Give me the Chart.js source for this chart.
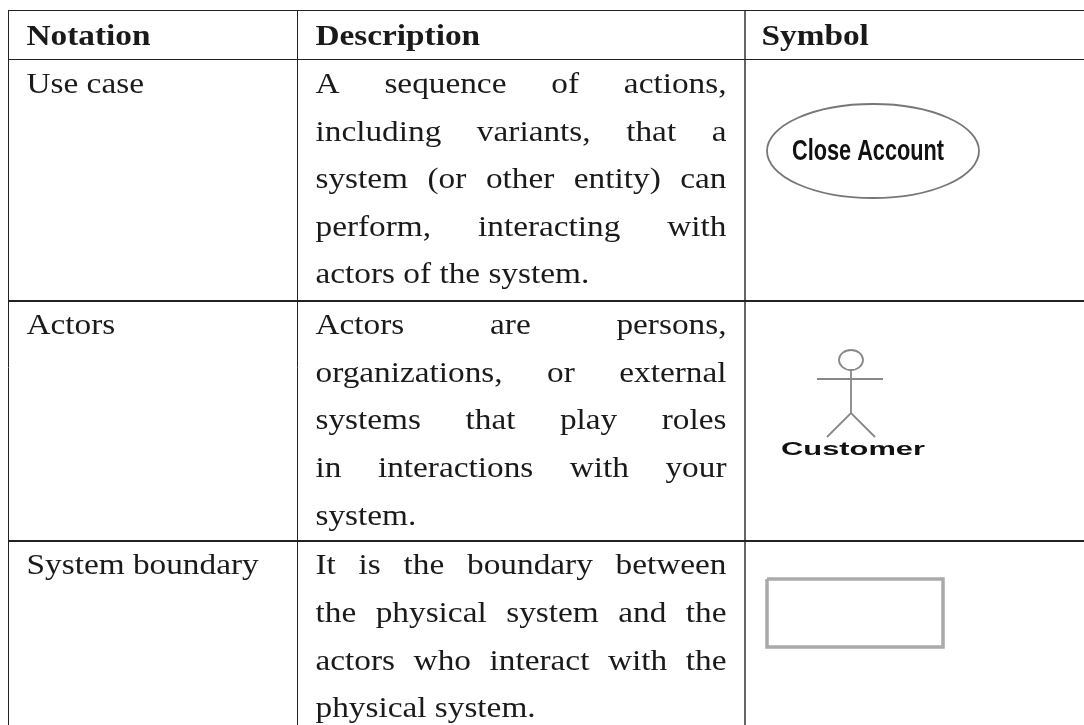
<!DOCTYPE html>
<html>
<head>
<meta charset="utf-8">
<title>Use case notation</title>
<script src="https://cdn.jsdelivr.net/npm/chart.js@4"></script>
<style>
  html, body { margin: 0; padding: 0; background: #fff; }
  canvas { display: block; }
</style>
</head>
<body>
<canvas id="tableChart" width="1084" height="725"></canvas>
<script>
// Table content
const headers = ['Notation', 'Description', 'Symbol'];
const notations = ['Use case', 'Actors', 'System boundary'];
const useCaseLines = ['A sequence of actions,', 'including variants, that a', 'system (or other entity) can', 'perform, interacting with', 'actors of the system.'];
const actorLines = ['Actors are persons,', 'organizations, or external', 'systems that play roles', 'in interactions with your', 'system.'];
const boundaryLines = ['It is the boundary between', 'the physical system and the', 'actors who interact with the', 'physical system.'];

// Rules of the table, in page units
const columnEdges = [8.5, 297.5, 745.5];
const rowEdges = [10.5, 59.5, 300.5, 540.5];

// Text baselines
const headerBaseline = 45;
const rowBaselines = [
    [93, 141, 188, 236, 283],
    [334, 382, 429, 477, 525],
    [574, 622, 670, 717]
];

// Symbols
const ovalCenter = [{ x: 873, y: 151 }];
const actorHead = [{ x: 851, y: 360 }];
const actorBody = [
    { x: 817, y: 379 }, { x: 883, y: 379 }, { x: NaN, y: NaN },
    { x: 851, y: 370 }, { x: 851, y: 413 }, { x: NaN, y: NaN },
    { x: 827, y: 437 }, { x: 851, y: 413 }, { x: 875, y: 437 }
];
const boundaryBox = [
    { x: 767, y: 579 }, { x: 943, y: 579 }, { x: 943, y: 647 }, { x: 767, y: 647 }, { x: 767, y: 579 }
];

const serif = '"Liberation Serif", serif';
const sans = '"Liberation Sans", sans-serif';
const textColor = '#1a1a1a';
const serifStretch = 1.11;

// Ellipse used as a point style (the oval and the actor's head)
function makeEllipse(rx, ry, width, color) {
    const c = document.createElement('canvas');
    c.width = Math.ceil(rx * 2 + 4);
    c.height = Math.ceil(ry * 2 + 4);
    const g = c.getContext('2d');
    g.strokeStyle = color;
    g.lineWidth = width;
    g.beginPath();
    g.ellipse(c.width / 2, c.height / 2, rx, ry, 0, 0, Math.PI * 2);
    g.stroke();
    return c;
}

// Draw text stretched sideways, to get near the width of the original face
function drawWord(ctx, text, x, y, stretch) {
    ctx.save();
    ctx.translate(x, y);
    ctx.scale(stretch, 1);
    ctx.fillText(text, 0, 0);
    ctx.restore();
}

function drawLine(ctx, text, left, right, y, justify) {
    const words = text.split(' ');
    const widths = words.map(w => ctx.measureText(w).width * serifStretch);
    const used = widths.reduce((a, b) => a + b, 0);
    const natural = ctx.measureText(' ').width * serifStretch;
    const gap = justify && words.length > 1 ? (right - left - used) / (words.length - 1) : natural;
    let x = left;
    words.forEach((w, i) => {
        drawWord(ctx, w, x, y, serifStretch);
        x += widths[i] + gap;
    });
}

const tableText = {
    id: 'tableText',
    afterDatasetsDraw(chart) {
        const { ctx, scales } = chart;
        const px = v => scales.x.getPixelForValue(v);
        const py = v => scales.y.getPixelForValue(v);
        ctx.save();
        ctx.fillStyle = textColor;
        ctx.textBaseline = 'alphabetic';

        // Header row
        ctx.font = 'bold 30px ' + serif;
        headers.forEach((h, i) => drawWord(ctx, h, px(columnEdges[i]) + (i === 2 ? 16 : 18), py(headerBaseline), serifStretch));

        ctx.font = '30px ' + serif;
        [useCaseLines, actorLines, boundaryLines].forEach((lines, r) => {
            drawWord(ctx, notations[r], px(columnEdges[0]) + 18, py(rowBaselines[r][0]), serifStretch);
            lines.forEach((line, i) => {
                drawLine(ctx, line, px(columnEdges[1]) + 18, px(columnEdges[2]) - 19, py(rowBaselines[r][i]), i < lines.length - 1);
            });
        });

        // Labels inside the symbols
        ctx.filter = 'blur(0.6px)';
        ctx.fillStyle = '#111';
        ctx.font = 'bold 29px ' + sans;
        drawWord(ctx, 'Close Account', px(792), py(160), 152 / ctx.measureText('Close Account').width);
        ctx.font = 'bold 18px ' + sans;
        drawWord(ctx, 'Customer', px(781), py(455), 144 / ctx.measureText('Customer').width);
        ctx.filter = 'none';
        ctx.restore();
    }
};

new Chart(document.getElementById('tableChart'), {
    type: 'scatter',
    data: {
        datasets: [
            { label: 'Oval', data: ovalCenter, pointStyle: makeEllipse(106, 47, 1.8, '#777'), pointRadius: 1 },
            { label: 'Head', data: actorHead, pointStyle: makeEllipse(12, 10, 1.8, '#888'), pointRadius: 1 },
            { label: 'Actor', data: actorBody, showLine: true, pointRadius: 0, borderColor: '#888', borderWidth: 1.8, spanGaps: false },
            { label: 'Boundary', data: boundaryBox, showLine: true, pointRadius: 0, borderColor: '#aaa', borderWidth: 3.5, borderJoinStyle: 'miter' }
        ]
    },
    options: {
        responsive: false,
        animation: false,
        layout: { autoPadding: false, padding: { left: 8, top: 10, right: 0, bottom: 0 } },
        plugins: { legend: { display: false }, tooltip: { enabled: false } },
        scales: {
            x: {
                type: 'linear',
                min: 8,
                max: 1084,
                afterBuildTicks: axis => { axis.ticks = columnEdges.map(value => ({ value })); },
                ticks: { display: false },
                border: { display: false },
                grid: {
                    drawTicks: false,
                    color: ctx => ctx.index === 2 ? '#666' : '#222',
                    lineWidth: ctx => ctx.index === 2 ? 2 : 1
                }
            },
            y: {
                type: 'linear',
                reverse: true,
                min: 10,
                max: 725,
                afterBuildTicks: axis => { axis.ticks = rowEdges.map(value => ({ value })); },
                ticks: { display: false },
                border: { display: false },
                grid: {
                    drawTicks: false,
                    color: '#222',
                    lineWidth: ctx => ctx.index >= 2 ? 2 : 1
                }
            }
        }
    },
    plugins: [tableText]
});
</script>
</body>
</html>
